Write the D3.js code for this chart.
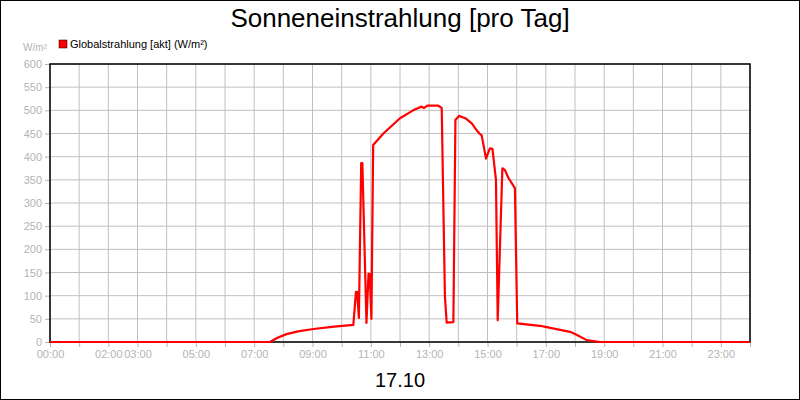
<!DOCTYPE html>
<html><head><meta charset="utf-8">
<script src="https://cdn.jsdelivr.net/npm/d3@7"></script>
<style>body{margin:0;background:#fff}svg{display:block;font-family:"Liberation Sans",Arial,sans-serif}</style>
</head><body><svg id="chart" width="800" height="400"></svg>
<script>
// hours of day and Globalstrahlung values (W/m²)
const hours = [0, 7.54, 7.8, 8.11, 8.5, 9.03, 9.74, 10.40, 10.49, 10.53, 10.59, 10.67, 10.71, 10.85, 10.92, 10.96, 11.02, 11.08,
  11.43, 12.0, 12.45, 12.74, 12.82, 12.94, 13.31, 13.43, 13.54, 13.60, 13.83, 13.90, 14.02, 14.24, 14.46, 14.58,
  14.72, 14.80, 14.95, 15.08, 15.17, 15.29, 15.35, 15.51, 15.60, 15.71, 15.94, 16.02, 16.8, 17.03, 17.83, 18.07,
  18.40, 18.86, 24];
const values = [0, 0, 9, 17, 23, 28, 33, 37, 108, 108, 52, 386, 386, 41, 147, 147, 50, 425,
  450, 483, 500, 508, 505, 510, 510, 505, 98, 42, 43, 479, 488, 483, 472, 461,
  450, 446, 396, 418, 417, 350, 47, 375, 371, 355, 332, 40, 35, 32, 22, 15,
  4, 0, 0];
const tickHours = d3.range(0, 25);
const labelHours = [0, 2, 3, 5, 7, 9, 11, 13, 15, 17, 19, 21, 23];
const yTicks = d3.range(0, 601, 50);

const svg = d3.select('#chart');
const margin = { top: 64, right: 50, bottom: 58, left: 50 };
const width = 800 - margin.left - margin.right;
const height = 400 - margin.top - margin.bottom;
const grey = '#b4b4b4';

svg.append('rect').attr('x', 0.5).attr('y', 0.5).attr('width', 799).attr('height', 399)
  .attr('fill', '#fff').attr('stroke', '#000');

svg.append('text').attr('x', 400).attr('y', 27).attr('text-anchor', 'middle')
  .attr('font-size', 26).text('Sonneneinstrahlung [pro Tag]');
svg.append('text').attr('x', 400).attr('y', 387).attr('text-anchor', 'middle')
  .attr('font-size', 20).text('17.10');

svg.append('rect').attr('x', 59).attr('y', 40).attr('width', 8).attr('height', 8)
  .attr('fill', '#ff0000').attr('stroke', '#000').attr('stroke-width', 0.5);
svg.append('text').attr('x', 70).attr('y', 48).attr('font-size', 11).text('Globalstrahlung [akt] (W/m²)');
svg.append('text').attr('x', 47).attr('y', 51).attr('text-anchor', 'end')
  .attr('font-size', 10).attr('fill', grey).text('W/m²');

const g = svg.append('g').attr('transform', `translate(${margin.left},${margin.top})`);
const x = d3.scaleLinear().domain([0, 24]).range([0, width]);
const y = d3.scaleLinear().domain([0, 600]).range([height, 0]);

// grid
g.selectAll('.vg').data(tickHours).enter().append('line')
  .attr('x1', d => x(d)).attr('x2', d => x(d)).attr('y1', 0).attr('y2', height)
  .attr('stroke', '#c0c0c0');
g.selectAll('.hg').data(yTicks).enter().append('line')
  .attr('x1', 0).attr('x2', width).attr('y1', d => y(d)).attr('y2', d => y(d))
  .attr('stroke', '#c0c0c0');

// axes
const xAxis = g.append('g').attr('transform', `translate(0,${height})`)
  .call(d3.axisBottom(x).tickValues(tickHours).tickSize(5)
    .tickFormat(d => labelHours.includes(d) ? String(d).padStart(2, '0') + ':00' : ''));
const yAxis = g.append('g').call(d3.axisLeft(y).tickValues(yTicks).tickSize(5).tickPadding(3));
[xAxis, yAxis].forEach(a => {
  a.select('.domain').remove();
  a.selectAll('line').attr('stroke', grey);
  a.selectAll('text').attr('fill', grey).attr('font-size', 11)
    .attr('font-family', '"Liberation Sans",Arial,sans-serif');
});

// frame
g.append('rect').attr('width', width).attr('height', height)
  .attr('fill', 'none').attr('stroke', '#000').attr('stroke-width', 1.5);

g.append('path').datum(hours.map((h, i) => [h, values[i]]))
  .attr('d', d3.line().x(d => x(d[0])).y(d => y(d[1])))
  .attr('fill', 'none').attr('stroke', '#ff0000').attr('stroke-width', 2.2)
  .attr('stroke-linejoin', 'round');
</script></body></html>
